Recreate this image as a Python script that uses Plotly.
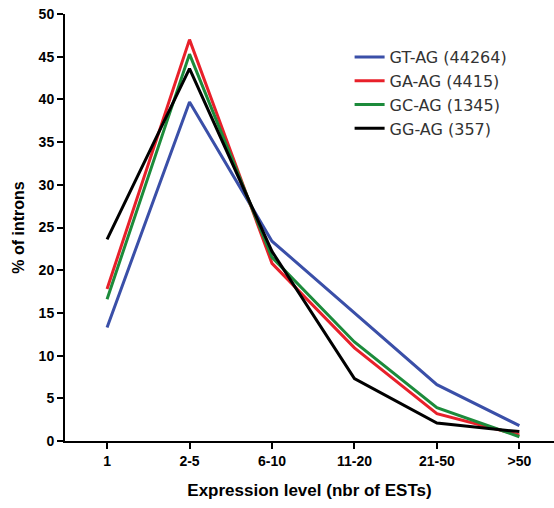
import plotly.graph_objects as go

categories = ["1", "2-5", "6-10", "11-20", "21-50", ">50"]
series_names = ["GT-AG (44264)", "GA-AG (4415)", "GC-AG (1345)", "GG-AG (357)"]
gt_ag = [13.3, 39.7, 23.4, 15.0, 6.6, 1.8]
ga_ag = [17.8, 47.0, 20.8, 10.9, 3.2, 0.7]
gc_ag = [16.6, 45.3, 21.5, 11.6, 3.9, 0.5]
gg_ag = [23.6, 43.6, 22.2, 7.3, 2.1, 1.1]
colors = ["#3A4FA8", "#E8202A", "#1C8B3B", "#000000"]
y_ticks = [0, 5, 10, 15, 20, 25, 30, 35, 40, 45, 50]

fig = go.Figure()
for name, vals, col in zip(series_names, [gt_ag, ga_ag, gc_ag, gg_ag], colors):
    fig.add_trace(go.Scatter(x=categories, y=vals, mode="lines", name=name,
                             line=dict(color=col, width=3)))

fig.update_layout(
    width=554, height=508,
    margin=dict(l=65, r=0, t=14, b=67),
    paper_bgcolor="white", plot_bgcolor="white",
    font=dict(family="Liberation Sans, Arial, sans-serif", color="black"),
    showlegend=True,
    legend=dict(x=0.582, y=0.939, xanchor="left", yanchor="top",
                bgcolor="rgba(0,0,0,0)",
                font=dict(size=16, color="#333333", family="DejaVu Sans, sans-serif"),
                itemwidth=30, tracegroupgap=0),
)
fig.update_xaxes(
    type="category", range=[-0.51, 5.42],
    showline=True, linecolor="black", linewidth=2,
    ticks="outside", ticklen=6, tickwidth=2, tickcolor="black",
    showgrid=False, zeroline=False,
    tickfont=dict(size=14, weight="bold", color="black"),
    title=dict(text="Expression level (nbr of ESTs)",
               font=dict(size=17, weight="bold", color="black"), standoff=16),
)
fig.update_yaxes(
    range=[0, 50], tickvals=y_ticks,
    showline=True, linecolor="black", linewidth=2,
    ticks="outside", ticklen=6, tickwidth=2, tickcolor="black",
    showgrid=False, zeroline=False,
    tickfont=dict(size=14, weight="bold", color="black"),
    title=dict(text="% of introns",
               font=dict(size=16, weight="bold", color="black"), standoff=10),
)

fig.write_html("out.html")
